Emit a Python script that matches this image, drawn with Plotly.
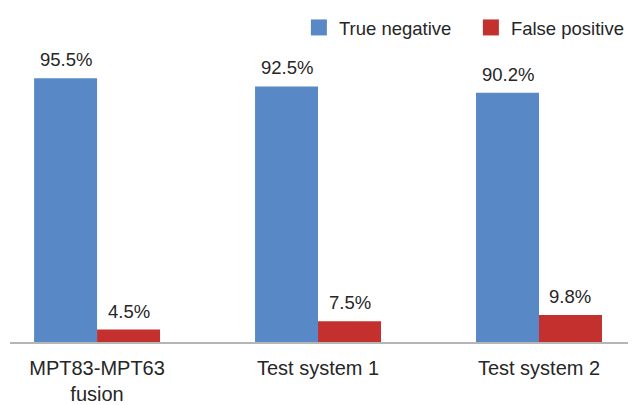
import plotly.graph_objects as go

categories = ["MPT83-MPT63<br>fusion", "Test system 1", "Test system 2"]
series_names = ["True negative", "False positive"]
true_negative = [95.5, 92.5, 90.2]
false_positive = [4.5, 7.5, 9.8]
tn_labels = ["95.5%", "92.5%", "90.2%"]
fp_labels = ["4.5%", "7.5%", "9.8%"]

FONT = "Arial, Liberation Sans, sans-serif"
TXT = "#262626"
BLUE = "#5889C6"
RED = "#C3302E"
BARGAP = 0.43

fig = go.Figure()
# bars (legend drawn by proxy traces for larger square symbols)
fig.add_trace(go.Bar(name=series_names[0], x=categories, y=true_negative,
                     marker=dict(color=BLUE, line=dict(width=0)), showlegend=False))
fig.add_trace(go.Bar(name=series_names[1], x=categories, y=false_positive,
                     marker=dict(color=RED, line=dict(width=0)), showlegend=False))
# legend proxies
for nm, col in zip(series_names, [BLUE, RED]):
    fig.add_trace(go.Scatter(name=nm, x=[None], y=[None], mode="markers",
                             marker=dict(symbol="square", size=16, color=col)))

# value labels above bars, via axis coordinates
half = (1 - BARGAP) / 4
for i in range(len(categories)):
    for vals, labs, off in [(true_negative, tn_labels, -half), (false_positive, fp_labels, half)]:
        fig.add_annotation(x=i + off, y=vals[i], text=labs[i], showarrow=False,
                           xref="x", yref="y", yanchor="bottom", yshift=6,
                           font=dict(size=18.5, color=TXT, family=FONT))

fig.update_layout(
    width=636, height=405,
    margin=dict(l=2, r=8, t=32, b=71, autoexpand=False),
    paper_bgcolor="white", plot_bgcolor="white",
    barmode="group", bargap=BARGAP, bargroupgap=0,
    font=dict(family=FONT, color=TXT),
    showlegend=True,
    legend=dict(orientation="h", x=1.011, xanchor="right", y=1.04, yanchor="middle",
                font=dict(size=18.5, family=FONT, color=TXT),
                itemwidth=30, entrywidth=127, entrywidthmode="pixels",
                traceorder="normal", bgcolor="rgba(0,0,0,0)"),
)
fig.update_xaxes(
    type="category",
    range=[-0.394, 2.439], showline=True, linecolor="#B5B5B5", linewidth=2,
    ticks="", showgrid=False, tickfont=dict(size=20, family=FONT, color=TXT),
    ticklabelstandoff=7, automargin=False,
)
fig.update_yaxes(range=[0, 109.3], visible=False, showgrid=False, zeroline=False)

fig.write_html("out.html")
